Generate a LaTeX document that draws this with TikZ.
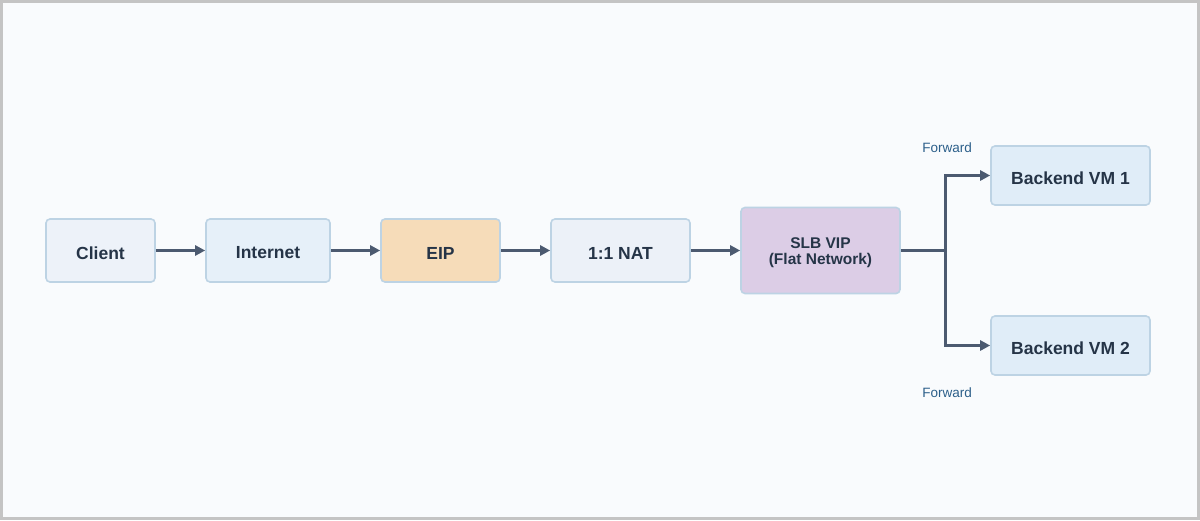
\documentclass[tikz,border=0pt]{standalone}
\usepackage{fontspec}
\setmainfont{Liberation Sans}
\usetikzlibrary{arrows.meta}
\definecolor{bgc}{HTML}{F9FBFD}
\definecolor{framec}{HTML}{C4C4C4}
\definecolor{boxline}{HTML}{BDD3E4}
\definecolor{txt}{HTML}{253447}
\definecolor{edgec}{HTML}{4C5A70}
\definecolor{lblc}{HTML}{2C5F8A}
\definecolor{fclient}{HTML}{EDF2F9}
\definecolor{finternet}{HTML}{E6F0F9}
\definecolor{feip}{HTML}{F6DCB9}
\definecolor{fnat}{HTML}{ECF1F8}
\definecolor{fslb}{HTML}{DCCDE6}
\definecolor{fvm}{HTML}{E0EDF8}
\newcommand{\lowerby}[2]{\raisebox{-#1}[\height][\depth]{#2}}
\tikzset{
  boxnode/.style={draw=boxline, line width=1.6pt, rounded corners=4pt, text=txt,
    font=\fontsize{17.5}{20}\selectfont\bfseries, inner sep=0pt, align=center,
    minimum height=63pt},
  flow/.style={draw=edgec, line width=2.8pt, -{Triangle[length=10pt,width=10pt]}},
  trunk/.style={draw=edgec, line width=2.8pt},
  lbl/.style={text=lblc, font=\fontsize{13.5}{16}\selectfont, inner sep=0pt}
}
\begin{document}
\begin{tikzpicture}[x=1pt,y=-1pt]
\fill[bgc] (0,0) rectangle (1200,520);
\draw[framec, line width=3pt] (1.5,1.5) rectangle (1198.5,518.5);
\useasboundingbox (0,0) rectangle (1200,520);

\node[boxnode, fill=fclient, minimum width=109pt] (client) at (100.5,250.5) {\lowerby{2.5pt}{Client}};
\node[boxnode, fill=finternet, minimum width=124pt] (internet) at (268,250.5) {\lowerby{2.5pt}{Internet}};
\node[boxnode, fill=feip, minimum width=119pt] (eip) at (440.5,250.5) {\lowerby{2.5pt}{EIP}};
\node[boxnode, fill=fnat, minimum width=139pt] (nat) at (620.5,250.5) {\lowerby{2.5pt}{1:1 NAT}};
\node[boxnode, fill=fslb, minimum width=159pt, minimum height=86pt,
  font=\fontsize{15.5}{16}\selectfont\bfseries] (slb) at (820.5,250.5)
  {\lowerby{3pt}{\begin{tabular}{@{}c@{}}SLB VIP\\(Flat Network)\end{tabular}}};
\node[boxnode, fill=fvm, minimum width=159pt, minimum height=59pt] (vm1) at (1070.5,175.5) {\lowerby{2.5pt}{Backend VM 1}};
\node[boxnode, fill=fvm, minimum width=159pt, minimum height=59pt] (vm2) at (1070.5,345.5) {\lowerby{2.5pt}{Backend VM 2}};

\coordinate (fork) at (945.5,250.5);

\draw[flow] (client.east) -- (internet.west);
\draw[flow] (internet.east) -- (eip.west);
\draw[flow] (eip.east) -- (nat.west);
\draw[flow] (nat.east) -- (slb.west);
\draw[trunk] (slb.east) -- (fork);
\draw[flow] (fork) |- (vm1.west);
\draw[flow] (fork) |- (vm2.west);

\node[lbl] (f1) at (947,148) {Forward};
\node[lbl] (f2) at (947,393) {Forward};
\end{tikzpicture}
\end{document}
